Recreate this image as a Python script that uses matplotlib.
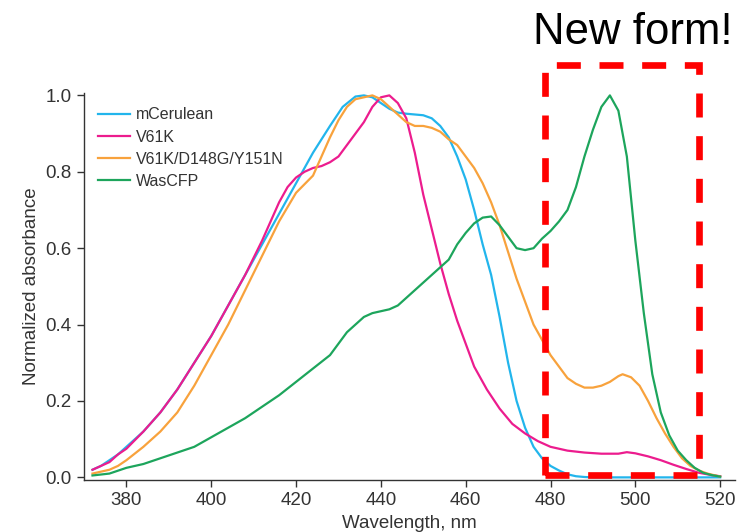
import numpy as np
import matplotlib
matplotlib.use("Agg")
import matplotlib.pyplot as plt
from matplotlib.patches import Rectangle

plt.rcParams['font.family'] = ['Liberation Sans', 'DejaVu Sans']

# mCerulean
wl_cer = [372, 374, 376, 378, 380, 384, 388, 392, 396, 400, 404, 408, 412, 416, 420, 424, 428, 431, 434, 436,
          438, 440, 442, 444, 446, 448, 450, 452, 454, 456, 458, 460, 462, 464, 466, 468, 470, 472, 474, 476,
          478, 480, 482, 484, 486, 488, 490, 500, 510, 520]
ab_cer = [0.02, 0.03, 0.045, 0.06, 0.08, 0.12, 0.17, 0.23, 0.30, 0.37, 0.45, 0.53, 0.61, 0.69, 0.77, 0.85, 0.92, 0.97, 0.997, 1.0,
          0.995, 0.98, 0.965, 0.955, 0.952, 0.95, 0.948, 0.94, 0.92, 0.89, 0.84, 0.78, 0.70, 0.61, 0.53, 0.42, 0.30, 0.20, 0.13, 0.08,
          0.05, 0.03, 0.018, 0.008, 0.003, 0.001, 0.0, 0.0, 0.0, 0.0]

# V61K
wl_v61k = [372, 374, 376, 378, 380, 384, 388, 392, 396, 400, 404, 408, 412, 416, 418, 420, 422, 424, 426, 428,
           430, 432, 434, 436, 438, 440, 442, 444, 446, 448, 450, 452, 454, 456, 458, 460, 462, 465, 468, 471,
           474, 477, 480, 484, 488, 492, 496, 498, 500, 503, 506, 509, 512, 515, 518, 520]
ab_v61k = [0.02, 0.03, 0.04, 0.06, 0.075, 0.12, 0.17, 0.23, 0.30, 0.37, 0.45, 0.53, 0.62, 0.72, 0.76, 0.785, 0.80, 0.81, 0.815, 0.825,
           0.84, 0.87, 0.90, 0.93, 0.97, 0.995, 1.0, 0.98, 0.94, 0.85, 0.74, 0.65, 0.56, 0.48, 0.41, 0.35, 0.29, 0.23, 0.18, 0.14,
           0.115, 0.095, 0.08, 0.07, 0.065, 0.062, 0.062, 0.066, 0.063, 0.055, 0.045, 0.033, 0.022, 0.012, 0.006, 0.003]

# V61K/D148G/Y151N
wl_trip = [372, 374, 376, 378, 380, 384, 388, 392, 396, 400, 404, 408, 412, 416, 420, 424, 426, 428, 430, 432,
           434, 436, 438, 440, 442, 444, 446, 448, 450, 452, 454, 456, 458, 460, 462, 464, 466, 468, 470, 472,
           474, 476, 478, 480, 482, 484, 486, 488, 490, 492, 494, 496, 497, 499, 501, 503, 505, 507, 509, 511,
           513, 515, 517, 520]
ab_trip = [0.01, 0.015, 0.02, 0.03, 0.045, 0.08, 0.12, 0.17, 0.24, 0.32, 0.40, 0.49, 0.58, 0.67, 0.745, 0.79, 0.84, 0.89, 0.935, 0.97,
           0.99, 0.995, 1.0, 0.99, 0.97, 0.95, 0.93, 0.92, 0.92, 0.915, 0.905, 0.885, 0.87, 0.84, 0.81, 0.77, 0.72, 0.66, 0.59, 0.52,
           0.46, 0.40, 0.36, 0.32, 0.29, 0.26, 0.245, 0.235, 0.235, 0.24, 0.25, 0.265, 0.27, 0.262, 0.24, 0.20, 0.155, 0.115, 0.08, 0.05,
           0.03, 0.018, 0.01, 0.002]

# WasCFP
wl_was = [372, 376, 380, 384, 388, 392, 396, 400, 404, 408, 412, 416, 420, 424, 428, 432, 436, 438, 440, 442,
          444, 446, 448, 450, 452, 454, 456, 458, 460, 462, 464, 466, 468, 470, 472, 474, 476, 478, 480, 482,
          484, 486, 488, 490, 492, 494, 496, 498, 500, 502, 504, 506, 508, 510, 512, 514, 516, 518, 520]
ab_was = [0.005, 0.01, 0.025, 0.035, 0.05, 0.065, 0.08, 0.105, 0.13, 0.155, 0.185, 0.215, 0.25, 0.285, 0.32, 0.38, 0.42, 0.43, 0.435, 0.44,
          0.45, 0.47, 0.49, 0.51, 0.53, 0.55, 0.57, 0.61, 0.64, 0.665, 0.68, 0.683, 0.66, 0.63, 0.60, 0.595, 0.60, 0.625, 0.645, 0.67,
          0.70, 0.76, 0.84, 0.91, 0.97, 1.0, 0.96, 0.84, 0.62, 0.43, 0.27, 0.17, 0.11, 0.07, 0.045, 0.025, 0.012, 0.006, 0.002]

xticks = [380, 400, 420, 440, 460, 480, 500, 520]
yticks = [0.0, 0.2, 0.4, 0.6, 0.8, 1.0]

fig = plt.figure(figsize=(7.5, 5.32), dpi=100)
ax = fig.add_axes([0.112, 0.098, 0.868, 0.727])

ax.plot(wl_cer, ab_cer, color='#22B5EC', lw=1.6, label='mCerulean')
ax.plot(wl_v61k, ab_v61k, color='#EC1C8E', lw=1.6, label='V61K')
ax.plot(wl_trip, ab_trip, color='#F8A23C', lw=1.6, label='V61K/D148G/Y151N')
ax.plot(wl_was, ab_was, color='#1DA55C', lw=1.6, label='WasCFP')

ax.set_xlim(370, 523.5)
ax.set_ylim(-0.0065, 1.006)
ax.set_xticks(xticks)
ax.set_yticks(yticks)
ax.set_yticklabels(['%.1f' % t for t in yticks])

for s in ['top', 'right']:
    ax.spines[s].set_visible(False)
for s in ['left', 'bottom']:
    ax.spines[s].set_color('#333333')
    ax.spines[s].set_linewidth(1.0)
ax.tick_params(direction='out', length=5, width=1.0, color='#333333',
               labelsize=13.5, labelcolor='#333333', pad=4)

ax.set_xlabel('Wavelength, nm', fontsize=13.5, color='#333333', labelpad=4)
ax.set_ylabel('Normalized absorbance', fontsize=13.5, color='#333333', labelpad=4)

leg = ax.legend(loc='upper left', bbox_to_anchor=(0.0, 1.0), frameon=False,
                fontsize=11.5, handlelength=2.0, handletextpad=0.35, labelspacing=0.45)
for t in leg.get_texts():
    t.set_color('#333333')

# red dashed box around the new peak
box = Rectangle((478.8, 0.0065), 515.0 - 478.8, 1.08 - 0.0065, fill=False,
                edgecolor='#FF0000', lw=4.8, linestyle=(0, (3.6, 2.8)), clip_on=False, zorder=5)
ax.add_patch(box)

fig.text(0.977, 0.918, 'New form!', fontsize=31.5, ha='right', va='baseline', color='black')

fig.savefig('out.png', dpi=100)
